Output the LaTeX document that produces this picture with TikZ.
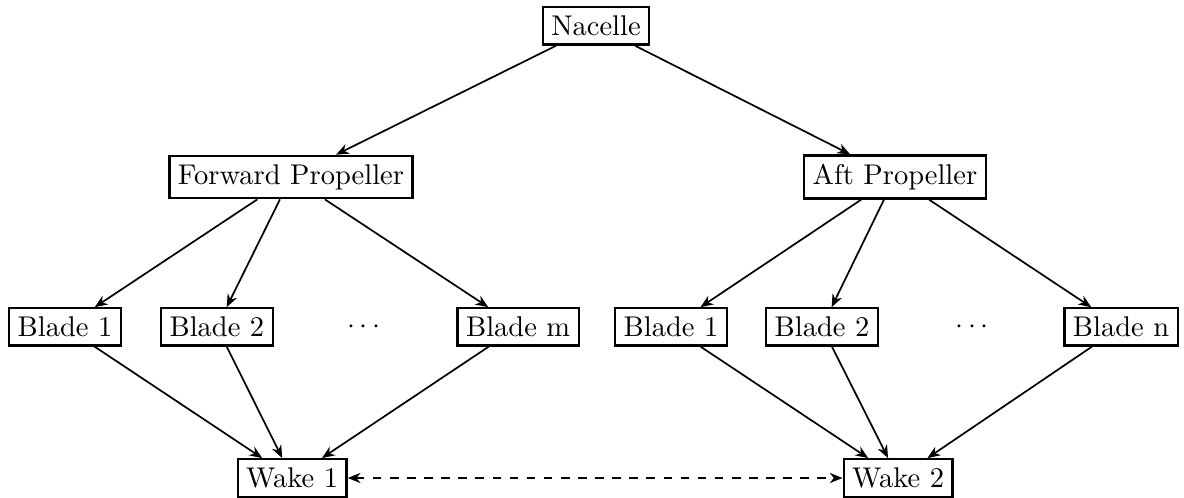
\documentclass[tikz,border=0pt]{standalone}
\usetikzlibrary{arrows.meta}
\begin{document}
\begin{tikzpicture}[x=1pt,y=1pt,
  box/.style={draw,thick,inner sep=3pt,minimum height=13pt},
  arr/.style={semithick,-{Stealth[length=4.5pt,width=3.6pt]}},
  darr/.style={semithick,dashed,{Stealth[length=4.5pt,width=3.6pt]}-{Stealth[length=4.5pt,width=3.6pt]}}]
\useasboundingbox (0,0) rectangle (415.4,-174.7);
\node[box] (nac) at (209.1,-9.1) {Nacelle};
\node[box] (fp) at (102.1,-62.1) {Forward Propeller};
\node[box] (ap) at (314.0,-62.1) {Aft Propeller};
\node[box] (b1l) at (22.8,-114.7) {Blade 1};
\node[box] (b2l) at (76.1,-114.7) {Blade 2};
\node (dl) at (127.7,-114.7) {$\cdots$};
\node[box] (bm) at (181.8,-114.7) {Blade m};
\node[box] (b1r) at (235.4,-114.7) {Blade 1};
\node[box] (b2r) at (288.4,-114.7) {Blade 2};
\node (dr) at (341.1,-114.7) {$\cdots$};
\node[box] (bn) at (393.3,-114.7) {Blade n};
\node[box] (w1) at (102.5,-167.7) {Wake 1};
\node[box] (w2) at (315.1,-167.7) {Wake 2};
\draw[arr] (nac) -- (fp);
\draw[arr] (nac) -- (ap);
\draw[arr] (fp) -- (b1l);
\draw[arr] (fp) -- (b2l);
\draw[arr] (fp) -- (bm);
\draw[arr] (ap) -- (b1r);
\draw[arr] (ap) -- (b2r);
\draw[arr] (ap) -- (bn);
\draw[arr] (b1l) -- (w1);
\draw[arr] (b2l) -- (w1);
\draw[arr] (bm) -- (w1);
\draw[arr] (b1r) -- (w2);
\draw[arr] (b2r) -- (w2);
\draw[arr] (bn) -- (w2);
\draw[darr] (w1) -- (w2);
\end{tikzpicture}
\end{document}
